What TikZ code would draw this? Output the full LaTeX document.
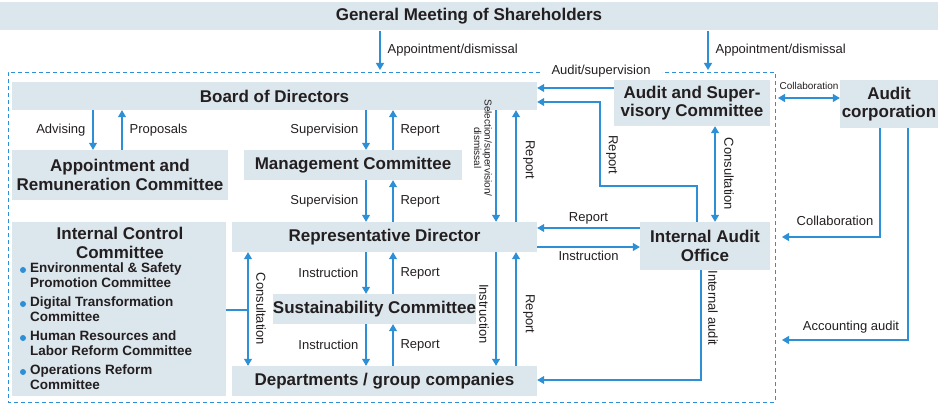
\documentclass[tikz,border=0pt]{standalone}
\usepackage{fontspec}
\setmainfont{Liberation Sans}
\usetikzlibrary{arrows.meta}
\definecolor{bx}{HTML}{DCE6ED}
\definecolor{ar}{HTML}{2D8FD5}
\definecolor{tx}{HTML}{231F20}
\tikzset{
 box/.style={fill=bx,draw=none,inner sep=0,align=center,text=tx,font=\fontsize{17}{18.5}\selectfont\bfseries},
 arr/.style={draw=ar,line width=1.2pt,-{Triangle[length=7pt,width=8pt]}},
 darr/.style={draw=ar,line width=1.2pt,{Triangle[length=7pt,width=8pt]}-{Triangle[length=7pt,width=8pt]}},
 lbl/.style={text=tx,font=\fontsize{13}{14}\selectfont,inner sep=1pt},
 rlbl/.style={lbl,rotate=-90},
 slbl/.style={text=tx,font=\fontsize{10}{10.5}\selectfont,inner sep=1pt,align=center},
}
\begin{document}
\begin{tikzpicture}[x=1pt,y=-1pt]
\useasboundingbox (0,0) rectangle (940,406);
\draw[ar,line width=0.8pt,dash pattern=on 4pt off 3pt] (540,72) -- (8,72) -- (8,402) -- (775,402) -- (775,72) -- (662,72);
\node[box,minimum width=938,minimum height=28] (gms) at (469,16.5) {General Meeting of Shareholders};
\node[box,minimum width=525,minimum height=28] (brd) at (274.5,96) {Board of Directors};
\node[box,minimum width=156,minimum height=46] (asc) at (692,103) {Audit and Super-\\visory Committee};
\node[box,minimum width=98,minimum height=48] (ac) at (889,104) {Audit\\corporation};
\node[box,minimum width=216,minimum height=50] (arc) at (120,175) {Appointment and\\Remuneration Committee};
\node[box,minimum width=218,minimum height=30] (mc) at (353,165) {Management Committee};
\node[box,minimum width=305,minimum height=30] (rd) at (384.5,237) {Representative Director};
\node[box,minimum width=130,minimum height=48] (iao) at (705,246) {Internal Audit\\Office};
\node[box,minimum width=214,minimum height=174,anchor=north west] (icc) at (12,222) {};
\node[box,anchor=north,align=center] at (120,227) {Internal Control\\Committee};
\node[box,anchor=north west,align=left,font=\fontsize{13.5}{15}\selectfont\bfseries] (icl) at (30,263) {Environmental \& Safety\\Promotion Committee\\[4pt]Digital Transformation\\Committee\\[4pt]Human Resources and\\Labor Reform Committee\\[4pt]Operations Reform\\Committee};
\foreach \y in {270,304,338,372} \fill[ar] (23,\y) circle (3pt);
\node[box,minimum width=199,minimum height=30] (sc) at (374.5,309) {Sustainability Committee};
\node[box,minimum width=305,minimum height=30] (dep) at (384.5,381) {Departments / group companies};
% GMS
\draw[arr] (380,0 |- gms.south) -- (380,70) node[lbl,midway,right=6pt] {Appointment/dismissal};
\draw[arr] (708,0 |- gms.south) -- (708,70) node[lbl,midway,right=6pt] {Appointment/dismissal};
% Board - ARC
\draw[arr] (93,0 |- brd.south) -- (93,0 |- arc.north) node[lbl,midway,left=6pt] {Advising};
\draw[arr] (122,0 |- arc.north) -- (122,0 |- brd.south) node[lbl,midway,right=6pt] {Proposals};
% vertical chain
\draw[arr] (366,0 |- brd.south) -- (366,0 |- mc.north) node[lbl,midway,left=6pt] {Supervision};
\draw[arr] (393,0 |- mc.north) -- (393,0 |- brd.south) node[lbl,midway,right=6pt] {Report};
\draw[arr] (366,0 |- mc.south) -- (366,0 |- rd.north) node[lbl,midway,left=6pt] {Supervision};
\draw[arr] (393,0 |- rd.north) -- (393,0 |- mc.south) node[lbl,midway,right=6pt] {Report};
\draw[arr] (366,0 |- rd.south) -- (366,0 |- sc.north) node[lbl,midway,left=6pt] {Instruction};
\draw[arr] (393,0 |- sc.north) -- (393,0 |- rd.south) node[lbl,midway,right=6pt] {Report};
\draw[arr] (366,0 |- sc.south) -- (366,0 |- dep.north) node[lbl,midway,left=6pt] {Instruction};
\draw[arr] (393,0 |- dep.north) -- (393,0 |- sc.south) node[lbl,midway,right=6pt] {Report};
% board - rd
\draw[arr] (496,0 |- brd.south) -- (496,0 |- rd.north);
\node[slbl,rotate=-90] at (483,148) {Selection/supervision/\\dismissal};
\draw[arr] (516,0 |- rd.north) -- (516,0 |- brd.south);
\node[rlbl] at (529,160) {Report};
\draw[arr] (496,0 |- rd.south) -- (496,0 |- dep.north);
\node[rlbl] at (484,314) {Instruction};
\draw[arr] (516,0 |- dep.north) -- (516,0 |- rd.south);
\node[rlbl] at (529,314) {Report};
% ASC
\draw[arr] (asc.west |- 0,88) -- (brd.east |- 0,88);
\node[lbl] (asl) at (601,71) {Audit/supervision};
\draw[arr] (697,0 |- iao.north) -- (697,186) -- (600,186) -- (600,102) -- (brd.east |- 0,102);
\node[rlbl] at (612,155) {Report};
\draw[darr] (715,0 |- asc.south) -- (715,0 |- iao.north);
\node[rlbl] at (729,174) {Consultation};
\draw[arr] (iao.west |- 0,228) -- (rd.east |- 0,228) node[lbl,midway,above=2pt] {Report};
\draw[arr] (rd.east |- 0,247) -- (iao.west |- 0,247) node[lbl,midway,below=2pt] {Instruction};
\draw[arr] (701,0 |- iao.south) -- (701,380) -- (dep.east |- 0,380);
\node[rlbl] at (713,308) {Internal audit};
% audit corp
\draw[darr] (778,98) -- (ac.west |- 0,98);
\node[slbl] at (809,86) {Collaboration};
\draw[arr] (880,0 |- ac.south) -- (880,237) -- (782,237);
\node[lbl] at (835,221) {Collaboration};
\draw[arr] (908,0 |- ac.south) -- (908,340) -- (782,340);
\node[lbl] at (851,327) {Accounting audit};
% consultation
\draw[draw=ar,line width=1.2pt] (icc.east |- 0,310) -- (248,310);
\draw[darr] (248,0 |- rd.south) -- (248,0 |- dep.north);
\node[rlbl] at (261,309) {Consultation};
\end{tikzpicture}
\end{document}
